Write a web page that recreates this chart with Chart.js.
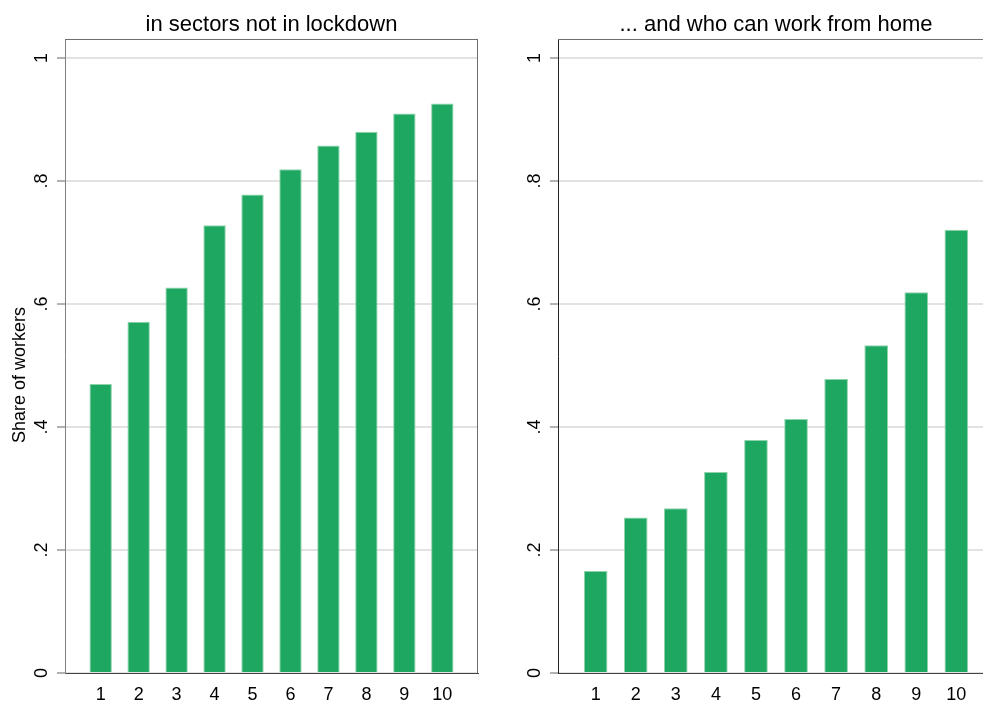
<!DOCTYPE html>
<html lang="en">
<head>
<meta charset="UTF-8">
<title>Share of workers by decile</title>
<script src="https://cdn.jsdelivr.net/npm/chart.js"></script>
<style>
    html, body { margin: 0; padding: 0; background: #fff; overflow: hidden; }
    .panel { position: absolute; top: 0; }
    #leftPanel { left: 0; }
    #rightPanel { left: 493px; }
</style>
</head>
<body>
<div class="panel" id="leftPanel"><canvas id="leftChart" width="490" height="701"></canvas></div>
<div class="panel" id="rightPanel"><canvas id="rightChart" width="501" height="701"></canvas></div>
<script>
// Data
const deciles = [1, 2, 3, 4, 5, 6, 7, 8, 9, 10];
const notInLockdown = [0.470, 0.571, 0.627, 0.728, 0.778, 0.819, 0.858, 0.880, 0.910, 0.926];
const workFromHome = [0.166, 0.253, 0.268, 0.327, 0.379, 0.413, 0.478, 0.533, 0.619, 0.721];
const yTicks = [0, 0.2, 0.4, 0.6, 0.8, 1];
const yTickLabels = ['0', '.2', '.4', '.6', '.8', '1'];
const panelTitles = ['in sectors not in lockdown', '... and who can work from home'];
const yAxisTitle = 'Share of workers';

const FONT = 'Arial, "Liberation Sans", Helvetica, sans-serif';
const barColor = '#1ea760';

// titles, rotated y tick labels and plot frame
const panelText = {
    id: 'panelText',
    afterDraw(chart, args, opts) {
        const ctx = chart.ctx;
        const a = chart.chartArea;
        const y = chart.scales.y;
        ctx.save();

        // frame lines
        ctx.strokeStyle = opts.frameColor;
        ctx.lineWidth = 1;
        ctx.beginPath();
        ctx.moveTo(a.left, Math.round(a.top) + 0.5);
        ctx.lineTo(a.right, Math.round(a.top) + 0.5);
        if (opts.rightFrame) {
            ctx.moveTo(Math.round(a.right) - 0.5, a.top);
            ctx.lineTo(Math.round(a.right) - 0.5, a.bottom);
        }
        ctx.stroke();

        ctx.fillStyle = '#000';

        // panel title
        ctx.font = '22px ' + FONT;
        ctx.textAlign = 'center';
        ctx.textBaseline = 'alphabetic';
        ctx.fillText(opts.title, (a.left + a.right) / 2, a.top - 8.5);

        // y tick labels, rotated
        ctx.font = '18px ' + FONT;
        ctx.textBaseline = 'middle';
        yTicks.forEach((v, i) => {
            ctx.save();
            ctx.translate(y.right - 23, y.getPixelForValue(v));
            ctx.rotate(-Math.PI / 2);
            ctx.fillText(yTickLabels[i], 0, 0);
            ctx.restore();
        });

        // y axis title
        if (opts.yTitle) {
            ctx.save();
            ctx.translate(20, (a.top + a.bottom) / 2 + 19);
            ctx.rotate(-Math.PI / 2);
            ctx.fillText(opts.yTitle, 0, 0);
            ctx.restore();
        }
        ctx.restore();
    }
};

function makePanel(canvasId, values, title, opts) {
    const ctx = document.getElementById(canvasId).getContext('2d');
    return new Chart(ctx, {
        type: 'bar',
        data: {
            datasets: [{
                data: deciles.map((d, i) => ({ x: d, y: values[i] })),
                backgroundColor: barColor,
                borderColor: '#8dd3ab',
                borderWidth: 1,
                borderSkipped: 'bottom',
                barPercentage: 0.59,
                categoryPercentage: 1.0
            }]
        },
        options: {
            responsive: false,
            animation: false,
            layout: { padding: { top: 39, right: opts.padRight, bottom: 0, left: 0 } },
            plugins: {
                legend: { display: false },
                tooltip: { enabled: false },
                panelText: {
                    title: title,
                    yTitle: opts.yTitle,
                    rightFrame: opts.rightFrame,
                    frameColor: '#6e6e6e'
                }
            },
            scales: {
                x: {
                    type: 'linear',
                    min: 0.06,
                    max: 10.94,
                    offset: false,
                    grid: { display: false },
                    border: { display: true, color: '#444', width: 1 },
                    ticks: {
                        color: '#000',
                        font: { family: FONT, size: 18 },
                        padding: 3,
                        maxRotation: 0,
                        callback: v => String(v)
                    },
                    afterBuildTicks: s => { s.ticks = deciles.map(v => ({ value: v })); },
                    afterFit: s => { s.height = 28; s.paddingLeft = 0; s.paddingRight = 0; }
                },
                y: {
                    min: 0,
                    max: 1.031,
                    grid: {
                        color: '#e2e2e2',
                        lineWidth: 2,
                        tickColor: '#666',
                        tickWidth: 1,
                        tickLength: 8
                    },
                    border: { display: true, color: opts.axisColor, width: 1 },
                    ticks: { display: false },
                    afterBuildTicks: s => { s.ticks = yTicks.map(v => ({ value: v })); },
                    afterFit: s => { s.width = 65; s.paddingTop = 0; s.paddingBottom = 0; }
                }
            }
        },
        plugins: [panelText]
    });
}

makePanel('leftChart', notInLockdown, panelTitles[0],
    { padRight: 12, yTitle: yAxisTitle, rightFrame: true, axisColor: '#808080' });
makePanel('rightChart', workFromHome, panelTitles[1],
    { padRight: 0, yTitle: null, rightFrame: false, axisColor: '#222' });
</script>
</body>
</html>
